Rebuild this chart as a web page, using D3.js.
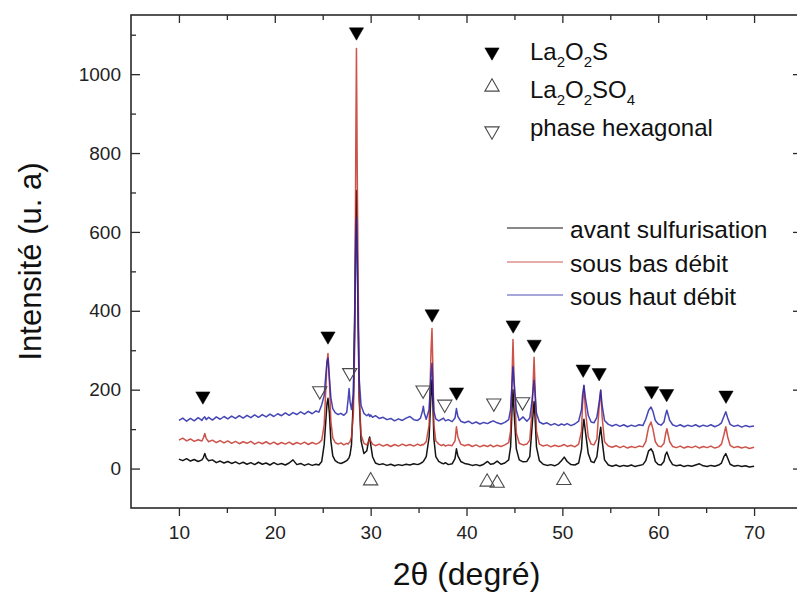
<!DOCTYPE html>
<html><head><meta charset="utf-8">
<script src="https://cdn.jsdelivr.net/npm/d3@7"></script>
<style>body{margin:0;background:#fff}svg{display:block;font-family:"Liberation Sans",Arial,sans-serif}</style>
</head><body><svg id="c" width="797" height="596"></svg>
<script>
// ---- data (2θ grid shared by the three patterns) ----
const twoTheta = [10.0,10.4,10.8,11.2,11.6,12.0,12.4,12.55,12.7,12.85,
13.1,13.5,13.9,14.3,14.7,15.1,15.5,15.9,16.3,16.7,
17.1,17.5,17.9,18.3,18.7,19.1,19.5,19.9,20.3,20.7,
21.1,21.5,21.9,22.3,22.7,23.1,23.5,23.9,24.3,24.6,
24.9,25.15,25.35,25.45,25.55,25.7,25.85,26.05,26.3,26.6,
26.9,27.2,27.5,27.65,27.75,27.85,28.0,28.2,28.35,28.45,
28.52,28.6,28.8,29.0,29.3,29.6,29.8,29.9,30.0,30.2,
30.5,30.9,31.3,31.7,32.1,32.5,32.9,33.3,33.7,34.1,
34.5,34.9,35.2,35.4,35.5,35.6,35.8,36.1,36.3,36.4,
36.5,36.6,36.8,37.1,37.4,37.6,37.8,38.1,38.5,38.8,
38.95,39.1,39.4,39.8,40.2,40.6,41.0,41.4,41.8,42.2,
42.5,42.8,43.2,43.6,44.0,44.4,44.6,44.75,44.85,44.95,
45.2,45.5,45.9,46.3,46.6,46.85,47.05,47.15,47.3,47.6,
48.0,48.4,48.8,49.2,49.6,49.9,50.2,50.5,50.9,51.3,
51.7,52.0,52.1,52.25,52.4,52.7,53.0,53.3,53.6,53.85,
54.0,54.15,54.4,54.8,55.2,55.6,56.0,56.4,56.8,57.2,
57.6,58.0,58.4,58.7,59.0,59.25,59.45,59.7,60.0,60.3,
60.6,60.75,60.9,61.2,61.5,61.9,62.3,62.7,63.1,63.5,
63.9,64.3,64.7,65.1,65.5,65.9,66.3,66.6,66.85,67.05,
67.25,67.5,67.9,68.3,68.7,69.1,69.5,70.0];

const avantSulfurisation = [24,20,25,19,23,18,22,28,38,27,
20,22,15,19,14,18,13,17,12,16,
11,15,10,16,11,14,9,15,10,13,
9,14,22,10,13,8,12,8,11,9,
18,60,130,165,178,140,70,32,20,15,
13,16,20,24,28,35,60,180,420,640,
705,560,180,70,38,45,72,80,62,30,
14,10,12,8,11,7,10,8,11,9,
12,10,13,16,18,22,30,80,190,225,
160,75,30,18,14,12,15,10,12,25,
50,32,18,13,11,8,10,7,11,18,
11,12,19,11,14,22,55,150,200,150,
50,22,17,18,30,110,170,130,55,20,
11,8,10,7,12,20,29,18,10,9,
14,50,95,125,95,38,18,15,30,80,
105,70,22,9,6,9,5,8,6,9,
5,8,10,20,45,50,42,18,10,9,
18,35,42,22,10,7,9,5,8,6,
9,12,7,5,8,6,9,14,30,38,
26,11,6,8,5,7,4,6];

const sousBasDebit = [72,77,70,75,69,73,70,78,89,76,
68,72,66,71,65,70,64,69,63,68,
64,69,62,67,63,68,62,67,61,66,
62,67,61,66,62,67,61,66,62,65,
72,110,215,270,292,220,120,78,66,62,
65,60,64,62,66,68,80,140,330,820,
1065,760,190,85,64,60,68,76,70,62,
58,62,57,61,56,61,57,62,58,61,
57,62,58,61,60,63,68,110,300,355,
250,110,70,62,58,61,57,60,58,70,
106,80,62,58,61,56,60,55,59,56,
60,55,59,56,60,66,95,230,327,240,
90,64,60,62,72,150,282,210,95,62,
57,60,55,59,56,58,61,56,59,55,
62,95,160,210,150,80,62,60,75,160,
198,130,68,57,54,58,53,57,52,56,
53,57,55,68,105,118,100,68,57,55,
64,85,101,68,56,53,57,52,56,53,
57,52,56,53,57,52,55,62,85,106,
80,59,53,56,52,55,51,54];

const sousHautDebit = [122,128,120,127,121,129,122,128,131,124,
130,123,131,125,132,126,133,127,134,128,
135,129,136,130,137,131,138,132,139,134,
141,135,142,137,144,138,145,139,146,143,
162,185,245,272,280,230,180,152,142,137,
140,135,142,175,203,170,150,190,380,580,
635,520,230,160,140,134,138,132,136,130,
134,127,130,124,127,121,126,122,128,132,
124,122,128,145,158,140,125,150,240,267,
200,145,126,121,125,128,121,124,119,128,
152,132,120,116,120,114,118,113,117,114,
118,121,116,113,117,124,150,215,258,220,
148,122,131,120,128,175,224,190,140,118,
113,116,110,114,109,113,110,114,109,113,
120,150,185,211,180,135,118,116,130,170,
199,160,122,112,108,112,107,111,106,110,
107,111,109,125,148,156,145,122,113,110,
118,135,148,122,111,107,111,106,110,107,
111,106,110,107,111,106,110,116,132,144,
128,112,107,110,105,109,106,108];

const seriesNames = ["avant sulfurisation", "sous bas débit", "sous haut débit"];
const seriesColors = ["#141414", "#c4342a", "#2424a8"];

// phase markers [2θ, intensity level]
const markLa2O2S = [[12.5,184],[25.55,336],[28.52,1107],[36.41,392],[38.96,194],[44.87,364],[47.06,315],[52.17,252],[53.84,243],[59.31,197],[60.88,190],[67.07,186]];
const markLa2O2SO4 = [[30.0,-31],[42.15,-34],[43.2,-37],[50.16,-30]];
const markHexagonal = [[24.69,197],[27.82,243],[35.47,199],[37.73,163],[42.85,166],[45.85,169]];

const xTicks = [10,20,30,40,50,60,70];
const xMinorTicks = [15,25,35,45,55,65];
const yTicks = [0,200,400,600,800,1000];
const yMinorTicks = [100,300,500,700,900,1100];

// ---- drawing ----
const svg = d3.select("#c");
svg.append("rect").attr("width",797).attr("height",596).attr("fill","#fff");
const L=131, T=15, R=802, B=508;
const x = d3.scaleLinear().domain([5,75]).range([L,R]);
const y = d3.scaleLinear().domain([-100,1150]).range([B,T]);

const axisColor = "#2a2a2a";
function styleAxis(g){
  g.select(".domain").remove();
  g.selectAll(".tick line").attr("stroke",axisColor).attr("stroke-width",1.3);
  g.selectAll(".tick text").attr("fill","#222").attr("font-size",19).attr("font-family","'Liberation Sans',Arial,sans-serif");
}
// bottom
svg.append("g").attr("transform",`translate(0,${B})`)
  .call(d3.axisBottom(x).tickValues(xTicks).tickSizeInner(8).tickSizeOuter(0).tickPadding(10).tickFormat(d3.format("d"))).call(styleAxis);
svg.append("g").attr("transform",`translate(0,${B})`)
  .call(d3.axisBottom(x).tickValues(xMinorTicks).tickSizeInner(5).tickSizeOuter(0).tickFormat("")).call(styleAxis);
// top
svg.append("g").attr("transform",`translate(0,${T})`)
  .call(d3.axisTop(x).tickValues(xTicks).tickSizeInner(-8).tickSizeOuter(0).tickFormat("")).call(styleAxis);
svg.append("g").attr("transform",`translate(0,${T})`)
  .call(d3.axisTop(x).tickValues(xMinorTicks).tickSizeInner(-5).tickSizeOuter(0).tickFormat("")).call(styleAxis);
// left
svg.append("g").attr("transform",`translate(${L},0)`)
  .call(d3.axisLeft(y).tickValues(yTicks).tickSizeInner(-9).tickSizeOuter(0).tickPadding(10).tickFormat(d3.format("d"))).call(styleAxis);
svg.append("g").attr("transform",`translate(${L},0)`)
  .call(d3.axisLeft(y).tickValues(yMinorTicks).tickSizeInner(-5).tickSizeOuter(0).tickFormat("")).call(styleAxis);
// right
svg.append("g").attr("transform",`translate(${R},0)`)
  .call(d3.axisRight(y).tickValues(yTicks).tickSizeInner(-9).tickSizeOuter(0).tickFormat("")).call(styleAxis);
svg.append("g").attr("transform",`translate(${R},0)`)
  .call(d3.axisRight(y).tickValues(yMinorTicks).tickSizeInner(-5).tickSizeOuter(0).tickFormat("")).call(styleAxis);
// frame
svg.append("rect").attr("x",L).attr("y",T).attr("width",R-L).attr("height",B-T)
  .attr("fill","none").attr("stroke",axisColor).attr("stroke-width",1.6);

// patterns
const allSeries = [avantSulfurisation, sousBasDebit, sousHautDebit];
const line = d3.line().x(d=>x(d[0])).y(d=>y(d[1]));
allSeries.forEach((vals,i)=>{
  const n = Math.min(vals.length, twoTheta.length);
  const pts = d3.range(n).map(k=>[twoTheta[k], vals[k]]);
  svg.append("path").datum(pts).attr("d",line).attr("fill","none")
    .attr("stroke",seriesColors[i]).attr("stroke-width",1.5).attr("stroke-linejoin","round")
    .attr("opacity", i===0?1:0.85);
});

// markers
const tri = d3.symbol().type(d3.symbolTriangle).size(88);
function markers(data, down, filled){
  svg.append("g").selectAll("path").data(data).join("path")
    .attr("d",tri)
    .attr("transform",d=>`translate(${x(d[0])},${y(d[1])}) rotate(${down?180:0})`)
    .attr("fill",filled?"#000":"none")
    .attr("stroke",filled?"#000":"#4a4a4a").attr("stroke-width",filled?0.5:1.1);
}
markers(markLa2O2S,true,true);
markers(markLa2O2SO4,false,false);
markers(markHexagonal,true,false);

// axis titles
svg.append("text").attr("x",(L+R)/2).attr("y",585).attr("text-anchor","middle")
  .attr("font-size",32).attr("fill","#111").text("2θ (degré)");
svg.append("text").attr("transform",`translate(41,${(T+B)/2}) rotate(-90)`).attr("text-anchor","middle")
  .attr("font-size",31).attr("fill","#111").text("Intensité (u. a)");

// legend: phases
const leg1 = svg.append("g");
const symRows = [{y:52,down:true,filled:true},{y:87,down:false,filled:false},{y:131,down:true,filled:false}];
symRows.forEach(r=>{
  leg1.append("path").attr("d",tri).attr("transform",`translate(492,${r.y}) rotate(${r.down?180:0})`)
    .attr("fill",r.filled?"#000":"none").attr("stroke",r.filled?"#000":"#4a4a4a").attr("stroke-width",r.filled?0.5:1.1);
});
function formula(yb, parts){
  const t = leg1.append("text").attr("x",530).attr("y",yb).attr("font-size",24).attr("fill","#111");
  parts.forEach(p=>{
    if(p.sub){ t.append("tspan").attr("font-size",15).attr("dy",7).text(p.s); }
    else { t.append("tspan").attr("dy",p.after?-7:0).text(p.s); }
  });
}
formula(60,[{s:"La"},{s:"2",sub:true},{s:"O",after:true},{s:"2",sub:true},{s:"S",after:true}]);
formula(98,[{s:"La"},{s:"2",sub:true},{s:"O",after:true},{s:"2",sub:true},{s:"SO",after:true},{s:"4",sub:true}]);
leg1.append("text").attr("x",530).attr("y",136).attr("font-size",24).attr("fill","#111").text("phase hexagonal");

// legend: samples
const legY = [228,262,295];
seriesNames.forEach((nm,i)=>{
  svg.append("line").attr("x1",507).attr("x2",563).attr("y1",legY[i]).attr("y2",legY[i])
    .attr("stroke",seriesColors[i]).attr("stroke-width",1.1).attr("opacity",i===0?1:0.8);
  svg.append("text").attr("x",570).attr("y",legY[i]+10).attr("font-size",24.5).attr("fill","#111").text(nm);
});
</script></body></html>
